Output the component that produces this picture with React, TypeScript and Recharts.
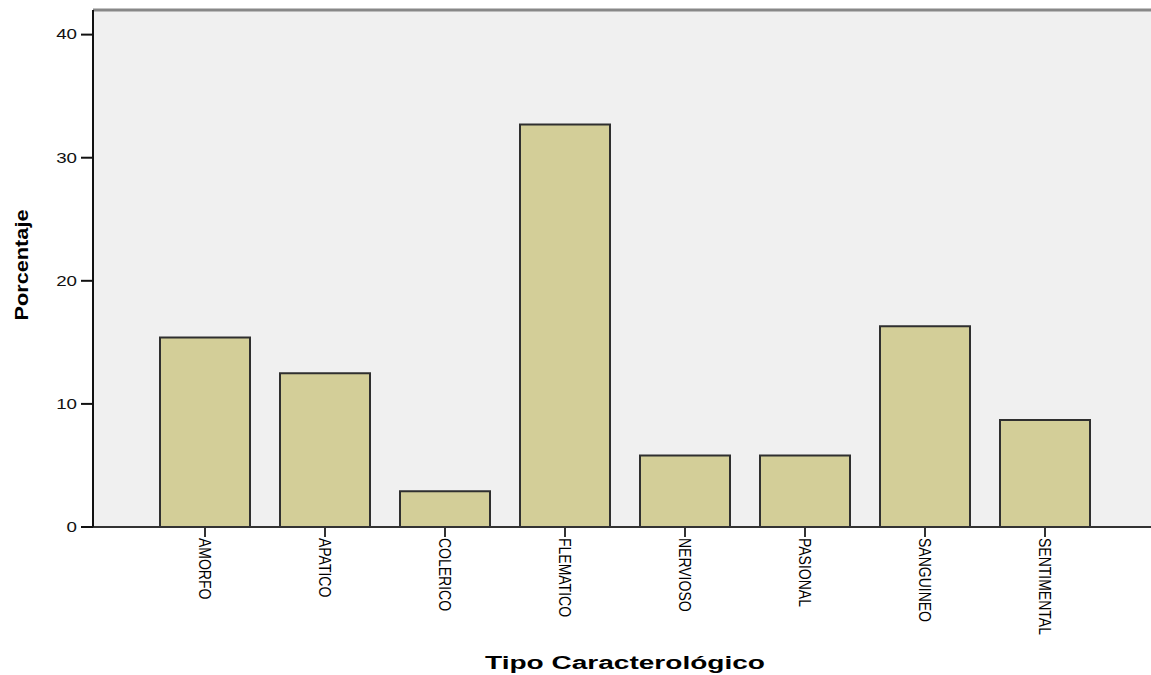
import { Bar, BarChart, CartesianGrid, Label, ReferenceLine, XAxis, YAxis } from "recharts";

const CATEGORIES = ["AMORFO", "APATICO", "COLERICO", "FLEMATICO", "NERVIOSO", "PASIONAL", "SANGUINEO", "SENTIMENTAL"];
const PERCENT = [15.4, 12.5, 2.9, 32.7, 5.8, 5.8, 16.3, 8.7];
const Y_TICKS = [0, 10, 20, 30, 40];

const data = CATEGORIES.map((name, i) => ({ name, value: PERCENT[i] }));

const FONT = "Arial, 'Liberation Sans', sans-serif";

// labels in the source look stretched sideways, so scale the glyphs a bit
function XTick({ x, y, payload }: any) {
  return (
    <g transform={`translate(${x},${y}) rotate(90) scale(1,1.2)`}>
      <text x={0} y={0} dominantBaseline="central" textAnchor="start"
        fontFamily={FONT} fontSize={14} fill="#000">
        {payload.value}
      </text>
    </g>
  );
}

function YTick({ x, y, payload }: any) {
  return (
    <g transform={`translate(${x},${y}) scale(1.25,1)`}>
      <text x={0} y={0} dominantBaseline="central" textAnchor="end" fontFamily={FONT} fontSize={15} fill="#111">
        {payload.value}
      </text>
    </g>
  );
}

export default function App() {
  return (
    <div style={{ position: "absolute", left: 0, top: 0, background: "#fff" }}>
      <BarChart width={1151} height={675} data={data} margin={{ top: 10, right: 0, bottom: 0, left: 0 }}>
        <CartesianGrid fill="#F0F0F0" stroke="none" />
        <XAxis dataKey="name" height={148} interval={0} padding={{ left: 52, right: 46 }}
          axisLine={{ stroke: "#333", strokeWidth: 2 }} tickLine={{ stroke: "#333", strokeWidth: 2 }}
          tickSize={10} tickMargin={1} tick={<XTick />}>
          <Label content={() => (
            <text x={625} y={669} textAnchor="middle" fontFamily={FONT} fontWeight="bold" fontSize={18}
              textLength={280} lengthAdjust="spacingAndGlyphs" fill="#000">
              Tipo Caracterológico
            </text>
          )} />
        </XAxis>
        <YAxis width={93} domain={[0, 42]} ticks={Y_TICKS} allowDataOverflow
          axisLine={{ stroke: "#111", strokeWidth: 2 }} tickLine={{ stroke: "#111", strokeWidth: 2 }}
          tickSize={12} tickMargin={4} tick={<YTick />}>
          <Label content={() => (
            <text transform="translate(22,265) rotate(-90)" x={0} y={0} textAnchor="middle" dominantBaseline="central"
              fontFamily={FONT} fontWeight="bold" fontSize={18} textLength={111} lengthAdjust="spacingAndGlyphs" fill="#000">
              Porcentaje
            </text>
          )} />
        </YAxis>
        <ReferenceLine y={42} stroke="#888" strokeWidth={3} />
        <Bar dataKey="value" barSize={90} fill="#D3CE98" stroke="#2f2f2f" strokeWidth={2} isAnimationActive={false} />
      </BarChart>
    </div>
  );
}
